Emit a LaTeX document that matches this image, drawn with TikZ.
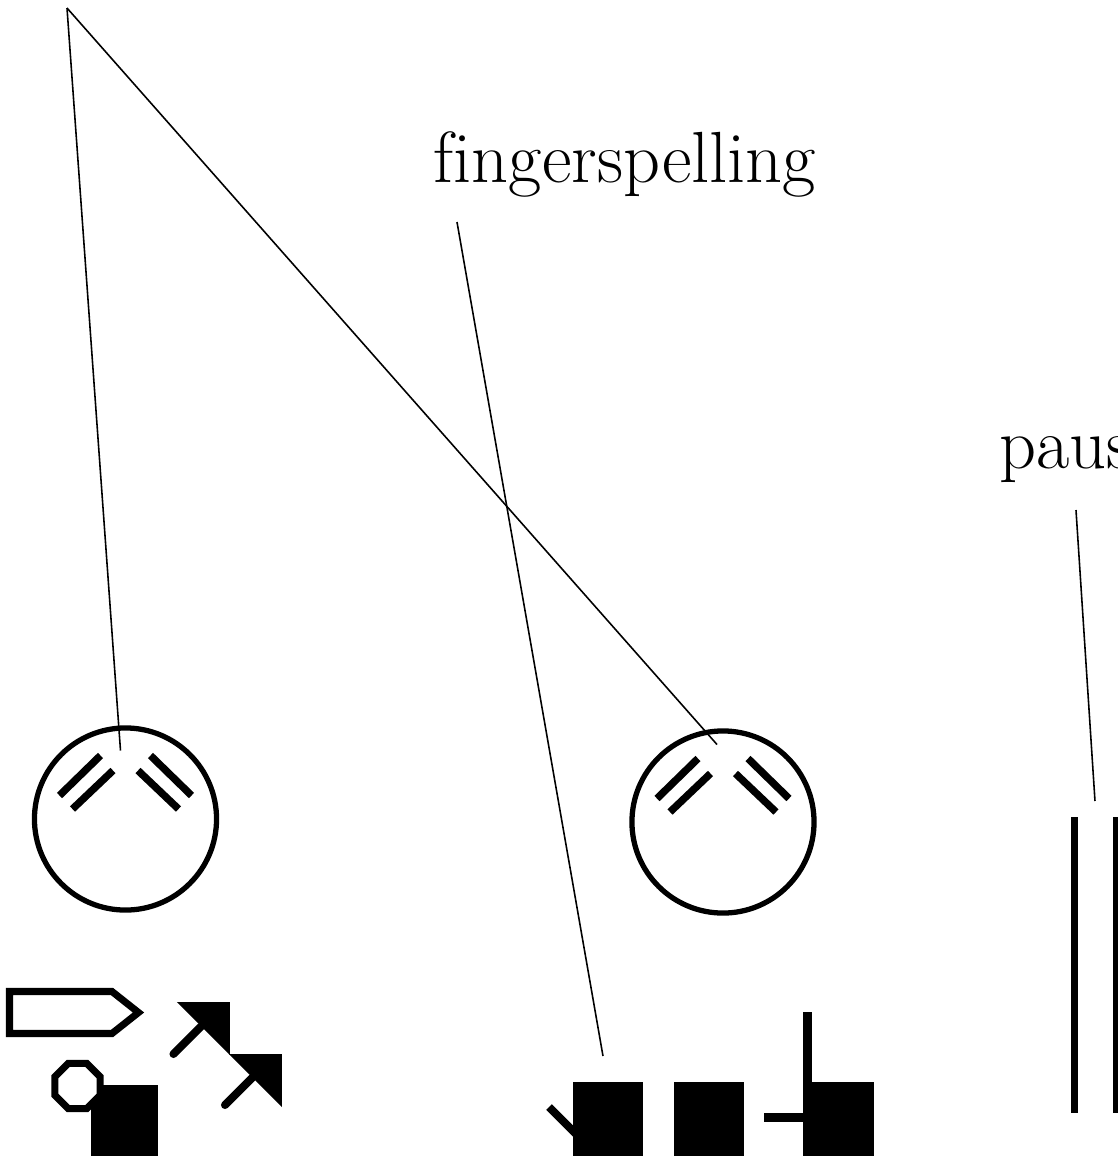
\documentclass[tikz,border=0pt]{standalone}
\usepackage{tikz}
\usetikzlibrary{positioning,calc}

\begin{document}
\begin{tikzpicture}[x=0.01cm,y=-0.01cm,
		leader/.style={line width=0.45pt},
		ring/.style={line width=1.5pt},
		eyebar/.style={line width=2.1pt,line cap=butt},
		stick/.style={line width=2.3pt,line cap=round},
		outl/.style={line width=2pt,line join=miter},
		lbl/.style={inner sep=0pt,font=\fontsize{20.6}{24}\selectfont}]
		\useasboundingbox (0,0) rectangle (1118,1156);
		% labels
		\node[lbl,anchor=base west] (fs) at (433,182) {\mbox{f}\mbox{i}ngerspelling};
		\begin{scope}
		\clip (0,0) rectangle (1118,1156);
		\node[lbl,anchor=base west] (ps) at (999,468) {pause};
		\end{scope}
		% faces
		\coordinate (lface) at (125.5,819);
		\coordinate (rface) at (723,822);
		\foreach \c in {lface,rface} {
			\draw[ring] (\c) circle[radius=0.91cm];
			\draw[eyebar] ($(\c)+(-66,-23.5)$) -- ($(\c)+(-25,-63.5)$);
			\draw[eyebar] ($(\c)+(-53,-10)$) -- ($(\c)+(-12.5,-48.5)$);
			\draw[eyebar] ($(\c)+(66,-23.5)$) -- ($(\c)+(25,-63.5)$);
			\draw[eyebar] ($(\c)+(53,-10)$) -- ($(\c)+(12.5,-48.5)$);
		}
		% hand shapes, left
		\draw[outl] (9.5,991.5) -- (112,991.5) -- (138.5,1012.5) -- (112,1033.5) -- (9.5,1033.5) -- cycle;
		\fill (91,1085) rectangle (158,1156);
		\draw[outl,fill=white] (77.5,1086) +(22.5:24.4) -- +(67.5:24.4) -- +(112.5:24.4) -- +(157.5:24.4)
			-- +(202.5:24.4) -- +(247.5:24.4) -- +(292.5:24.4) -- +(337.5:24.4) -- cycle;
		\fill (177,1002) -- (230,1002) -- (230,1055) -- cycle;
		\fill (229,1054) -- (282,1054) -- (282,1107) -- cycle;
		\draw[stick] (173.5,1054) -- (201,1026.5);
		\draw[stick] (225,1105) -- (252,1078);
		% hand shapes, middle
		\fill (573,1082) rectangle (643,1156);
		\fill (674,1082) rectangle (744,1156);
		\fill (803,1082) rectangle (874,1156);
		\draw[line width=2.3pt] (549,1107) -- (576,1134);
		\fill (803,1012) rectangle (812,1082);
		\fill (764,1113) rectangle (803,1122);
		% pause
		\fill (1071,817) rectangle (1078,1113);
		\fill (1113,817) rectangle (1120,1113);
		% leaders
		\coordinate (apex) at (67,8);
		\coordinate (lnose) at (120.5,750.5);
		\coordinate (rnose) at (717,744.5);
		\coordinate (fstail) at (457,222);
		\coordinate (fshand) at (603,1056);
		\coordinate (pstail) at (1076,510);
		\coordinate (psbar) at (1095,801);
		\draw[leader] (apex) -- (lnose);
		\draw[leader] (apex) -- (rnose);
		\draw[leader] (fstail) -- (fshand);
		\draw[leader] (pstail) -- (psbar);
\end{tikzpicture}
\end{document}
